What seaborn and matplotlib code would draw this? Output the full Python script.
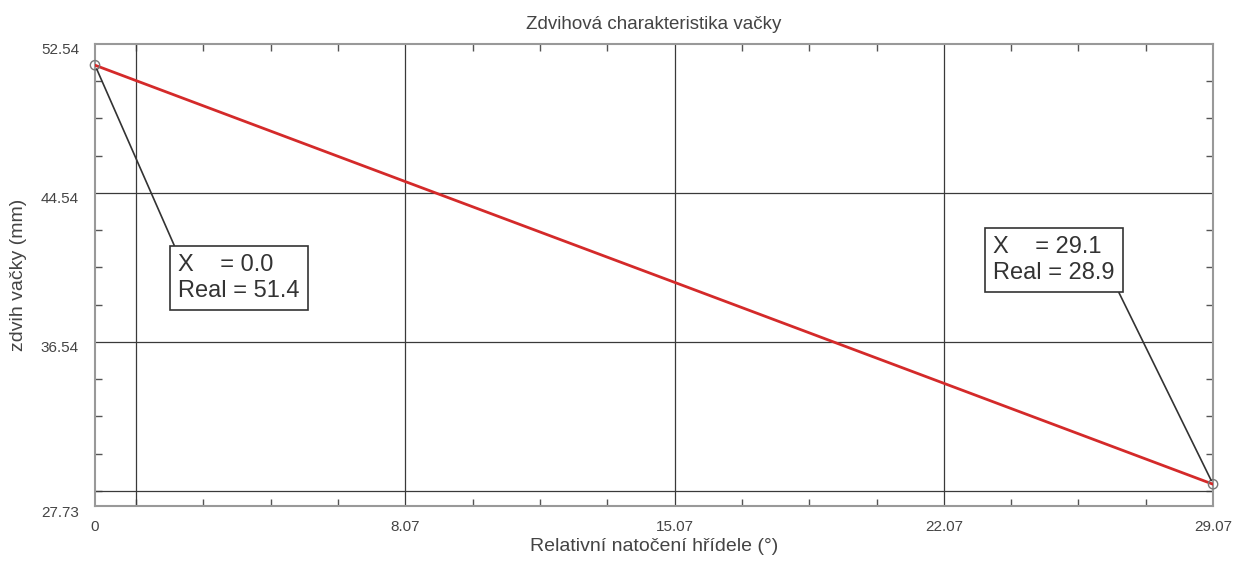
import numpy as np
import pandas as pd
import seaborn as sns
import matplotlib.pyplot as plt
from matplotlib.ticker import FixedLocator
from matplotlib.transforms import ScaledTranslation

# values
angle = [0.0, 8.07, 15.07, 22.07, 29.07]
lift = [51.4, 45.15, 39.74, 34.32, 28.9]

x_ticks = [0, 8.07, 15.07, 22.07, 29.07]
x_tick_labels = ["0", "8.07", "15.07", "22.07", "29.07"]
y_ticks = [27.73, 36.54, 44.54, 52.54]
y_tick_labels = ["27.73", "36.54", "44.54", "52.54"]
x_grid = [1.07, 8.07, 15.07, 22.07]
y_grid = [28.54, 36.54, 44.54]

df = pd.DataFrame({"angle": angle, "lift": lift})

sns.set_style("white")
plt.rcParams['font.family'] = ['Liberation Sans', 'DejaVu Sans']

fig = plt.figure(figsize=(12.42, 5.61), dpi=100)
ax = fig.add_axes([0.0765, 0.098, 0.9002, 0.8236])

for gx in x_grid:
    ax.axvline(gx, color="#3a3a3a", lw=0.9, zorder=1)
for gy in y_grid:
    ax.axhline(gy, color="#3a3a3a", lw=0.9, zorder=1)

sns.lineplot(data=df, x="angle", y="lift", ax=ax, color="#d42a2a", lw=2, zorder=3)

# end point markers
ax.scatter([angle[0], angle[-1]], [lift[0], lift[-1]], s=45, facecolors="none",
           edgecolors="#777777", lw=1, zorder=4, clip_on=False)

ax.set_xlim(0, 29.07)
ax.set_ylim(27.73, 52.54)

ax.set_xticks(x_ticks)
ax.set_xticklabels(x_tick_labels)
ax.set_yticks(y_ticks)
ax.set_yticklabels(y_tick_labels)
ax.tick_params(axis="both", which="major", length=0, labelsize=11, colors="#444444")
ax.tick_params(axis="x", which="major", pad=10)
ax.tick_params(axis="y", which="major", pad=11.5)

# y tick labels sit a little below their values in the reference
shift = ScaledTranslation(0, -5 / 100, fig.dpi_scale_trans)
for lab in ax.get_yticklabels():
    lab.set_transform(lab.get_transform() + shift)

ax.xaxis.set_minor_locator(FixedLocator([1.07 + 1.75 * k for k in range(17)]))
ax.yaxis.set_minor_locator(FixedLocator([28.54 + 2 * k for k in range(12)]))
ax.tick_params(axis="both", which="minor", direction="in", length=5, width=1,
               color="#555555", top=True, right=True, bottom=True, left=True)

for sp in ax.spines.values():
    sp.set_color("#999999")
    sp.set_linewidth(1.5)

ax.set_xlabel("Relativní natočení hřídele (°)", fontsize=14, color="#444444", labelpad=3)
ax.set_ylabel("zdvih vačky (mm)", fontsize=14, color="#444444", labelpad=10)
ax.set_title("Zdvihová charakteristika vačky", fontsize=13.5, color="#444444", pad=11)

box = dict(boxstyle="square,pad=0.35", fc="white", ec="#333333", lw=1.2)
ax.annotate("X    = 0.0\nReal = 51.4", xy=(angle[0], lift[0]), xytext=(2.16, 39.98),
            ha="left", va="center", fontsize=17, color="#333333", linespacing=1.2,
            bbox=box, zorder=5,
            arrowprops=dict(arrowstyle="-", color="#333333", lw=1.2, relpos=(0, 1),
                            shrinkA=0, shrinkB=3))
ax.annotate("X    = 29.1\nReal = 28.9", xy=(angle[-1], lift[-1]), xytext=(23.35, 40.94),
            ha="left", va="center", fontsize=17, color="#333333", linespacing=1.2,
            bbox=box, zorder=5,
            arrowprops=dict(arrowstyle="-", color="#333333", lw=1.2, relpos=(1, 0),
                            shrinkA=0, shrinkB=3))

fig.savefig("out.png", dpi=100)
